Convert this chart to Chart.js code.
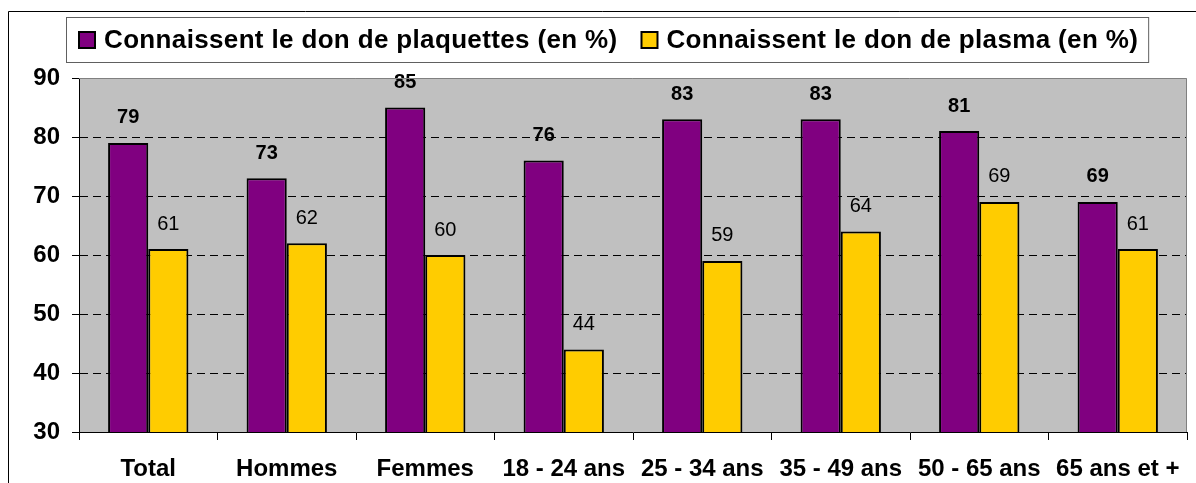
<!DOCTYPE html>
<html>
<head>
<meta charset="utf-8">
<script src="https://cdn.jsdelivr.net/npm/chart.js@4/dist/chart.umd.min.js"></script>
<style>
  html, body { margin: 0; padding: 0; background: #fff; }
  canvas { display: block; }
</style>
</head>
<body>
<canvas id="chart" width="1196" height="483"></canvas>
<script>
const categories = ['Total', 'Hommes', 'Femmes', '18 - 24 ans', '25 - 34 ans', '35 - 49 ans', '50 - 65 ans', '65 ans et +'];
const plaquettes = [79, 73, 85, 76, 83, 83, 81, 69];
const plasma = [61, 62, 60, 44, 59, 64, 69, 61];
const seriesNames = ['Connaissent le don de plaquettes (en %)', 'Connaissent le don de plasma (en %)'];
const yMin = 30, yMax = 90, yStep = 10;

const FONT = '"Liberation Sans", Arial, sans-serif';

// fond gris, cadres, légende encadrée
const decor = {
  id: 'decor',
  beforeDraw(chart) {
    const { ctx, chartArea: a } = chart;
    ctx.save();
    ctx.fillStyle = '#c0c0c0';
    ctx.fillRect(a.left, a.top, a.right - a.left, a.bottom - a.top);
    // cadre extérieur
    ctx.strokeStyle = '#000';
    ctx.lineWidth = 1;
    ctx.beginPath();
    ctx.moveTo(8.5, 483);
    ctx.lineTo(8.5, 11.5);
    ctx.lineTo(1196, 11.5);
    ctx.stroke();
    ctx.restore();
  },
  afterDraw(chart) {
    const { ctx, chartArea: a } = chart;
    ctx.save();
    ctx.strokeStyle = '#808080';
    ctx.lineWidth = 1;
    ctx.beginPath();
    ctx.moveTo(a.left, a.top + 0.5);
    ctx.lineTo(a.right - 0.5, a.top + 0.5);
    ctx.lineTo(a.right - 0.5, a.bottom);
    ctx.stroke();

    // légende
    ctx.font = 'bold 26px ' + FONT;
    ctx.letterSpacing = '0.35px';
    ctx.textBaseline = 'middle';
    ctx.textAlign = 'left';
    const cy = 40;
    let x = 79;
    chart.data.datasets.forEach((ds, i) => {
      ctx.fillStyle = ds.backgroundColor;
      ctx.fillRect(x, cy - 8, 16, 16);
      ctx.strokeStyle = '#000';
      ctx.lineWidth = 2;
      ctx.strokeRect(x, cy - 8, 16, 16);
      x += 25;
      ctx.fillStyle = '#000';
      ctx.fillText(ds.label, x, cy + 1);
      x += ctx.measureText(ds.label).width + 24;
    });
    const right = x - 24 + 10;
    ctx.strokeStyle = '#606060';
    ctx.lineWidth = 1;
    ctx.strokeRect(66.5, 17.5, right - 66, 45);
    ctx.restore();
  }
};

// valeurs au-dessus des barres
const valueLabels = {
  id: 'valueLabels',
  afterDatasetsDraw(chart) {
    const { ctx } = chart;
    ctx.save();
    ctx.textAlign = 'center';
    ctx.textBaseline = 'middle';
    ctx.fillStyle = '#000';
    chart.data.datasets.forEach((ds, i) => {
      ctx.font = (i === 0 ? 'bold ' : '') + '20px ' + FONT;
      chart.getDatasetMeta(i).data.forEach((bar, j) => {
        ctx.fillText(String(ds.data[j]), bar.x, bar.y - 25);
      });
    });
    ctx.restore();
  }
};

new Chart(document.getElementById('chart'), {
  type: 'bar',
  data: {
    labels: categories,
    datasets: [
      {
        label: seriesNames[0],
        data: plaquettes,
        backgroundColor: '#800080',
        borderColor: '#000',
        borderWidth: 2,
        borderSkipped: 'bottom',
        categoryPercentage: 0.58,
        barPercentage: 1
      },
      {
        label: seriesNames[1],
        data: plasma,
        backgroundColor: '#ffcc00',
        borderColor: '#000',
        borderWidth: 2,
        borderSkipped: 'bottom',
        categoryPercentage: 0.58,
        barPercentage: 1
      }
    ]
  },
  options: {
    responsive: false,
    animation: false,
    layout: { padding: { top: 78, right: 9, left: 0, bottom: 0 } },
    plugins: {
      legend: { display: false },
      tooltip: { enabled: false }
    },
    scales: {
      x: {
        grid: {
          offset: true,
          drawOnChartArea: false,
          drawTicks: true,
          tickLength: 8,
          tickColor: '#000',
          tickWidth: 1
        },
        border: { color: '#000', width: 1 },
        ticks: {
          color: '#000',
          font: { family: FONT, size: 24, weight: 'bold' },
          padding: 15,
          maxRotation: 0,
          autoSkip: false
        },
        afterFit(scale) { scale.height = 51; }
      },
      y: {
        min: yMin,
        max: yMax,
        grid: {
          color: (c) => (c.tick && (c.tick.value === yMin || c.tick.value === yMax)) ? 'rgba(0,0,0,0)' : '#000',
          lineWidth: 1,
          tickLength: 7,
          tickColor: '#000',
          tickWidth: 1,
          tickBorderDash: []
        },
        border: { color: '#000', width: 1, dash: [8, 5] },
        ticks: {
          stepSize: yStep,
          color: '#000',
          font: { family: FONT, size: 24, weight: 'bold' },
          padding: 12
        },
        afterFit(scale) { scale.width = 79; }
      }
    }
  },
  plugins: [decor, valueLabels]
});
</script>
</body>
</html>
